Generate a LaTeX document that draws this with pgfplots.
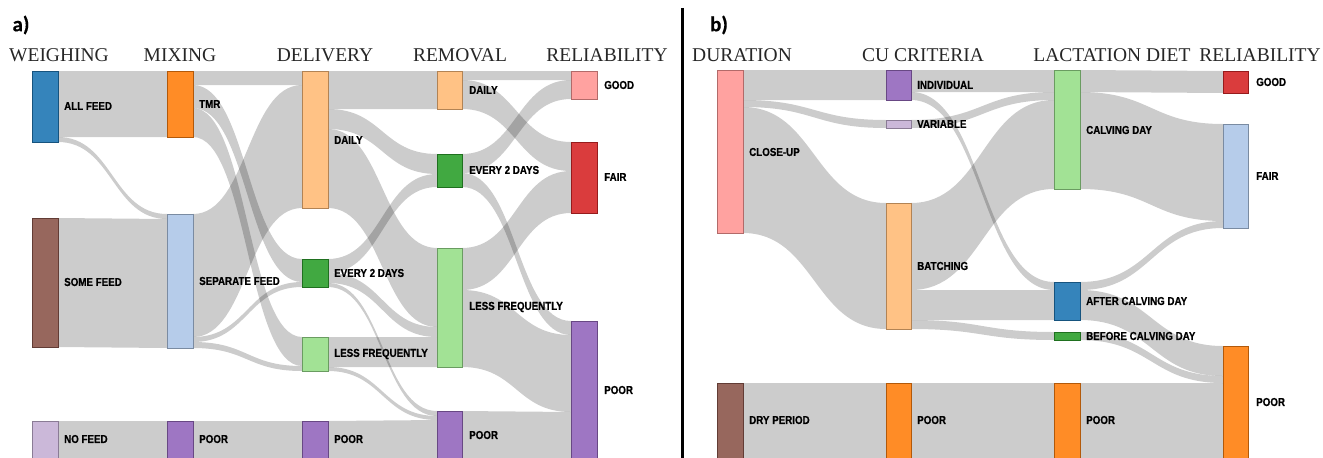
\documentclass[border=0pt]{standalone}
\usepackage{pgfplots}
\pgfplotsset{compat=1.18}
\usepackage{fontspec}
\setmainfont{Liberation Serif}
\newfontfamily\labfont{Liberation Sans Bold}[FakeStretch=0.85, FakeBold=0.6]
\newfontfamily\panfont{Carlito Bold}[FakeBold=0.5]
\definecolor{cBlue}{HTML}{1F77B4}
\definecolor{cLBlue}{HTML}{AEC7E8}
\definecolor{cOrange}{HTML}{FF7F0E}
\definecolor{cPeach}{HTML}{FFBB78}
\definecolor{cGreen}{HTML}{2CA02C}
\definecolor{cLGreen}{HTML}{98DF8A}
\definecolor{cRed}{HTML}{D62728}
\definecolor{cPink}{HTML}{FF9896}
\definecolor{cPurple}{HTML}{9467BD}
\definecolor{cLPurple}{HTML}{C5B0D5}
\definecolor{cBrown}{HTML}{8C564B}
\tikzset{
  lab/.style={anchor=west, inner sep=0pt, font=\labfont\fontsize{11.5bp}{12bp}\selectfont},
  hdr/.style={anchor=base, inner sep=0pt, text=black!85, font=\fontsize{19.5bp}{20bp}\selectfont},
  pan/.style={anchor=center, inner sep=0pt, font=\panfont\fontsize{21bp}{22bp}\selectfont}
}
% flow: x0, xmid, x1, top0, bottom0, top1, bottom1
\newcommand{\flow}[7]{\fill[black, fill opacity=0.2] (axis cs:#1,#4) .. controls (axis cs:#2,#4) and (axis cs:#2,#6) .. (axis cs:#3,#6) -- (axis cs:#3,#7) .. controls (axis cs:#2,#7) and (axis cs:#2,#5) .. (axis cs:#1,#5) -- cycle;}
% node: colour, x0, y0, x1, y1
\newcommand{\snode}[5]{\addplot[draw=#1!70!black, fill=#1, fill opacity=0.9, line width=0.8pt, line join=miter, mark=none] coordinates {(#2,#3) (#4,#3) (#4,#5) (#2,#5)} -- cycle;}
\newcommand{\lab}[3]{\node[lab] at (axis cs:#1,#2) {#3};}
\newcommand{\hdr}[3]{\node[hdr] at (axis cs:#1,#2) {#3};}
\begin{document}
\begin{tikzpicture}
\begin{axis}[scale only axis, width=1323bp, height=457bp,
  xmin=0, xmax=1323, ymin=0, ymax=457, y dir=reverse, hide axis, clip=false]
% ---------------- panel a : flows
% weighing -> mixing
\flow{58}{112.5}{167}{71}{137}{71}{137}
\flow{58}{112.5}{167}{137}{142}{214}{219}
\flow{58}{112.5}{167}{218}{347}{219}{348}
\flow{58}{112.5}{167}{421}{460}{421}{460}
% mixing -> delivery
\flow{193}{247.5}{302}{71}{85}{71}{85}
\flow{193}{247.5}{302}{85}{108}{259}{282}
\flow{193}{247.5}{302}{108}{137}{337}{366}
\flow{193}{247.5}{302}{214}{337}{85}{208}
\flow{193}{247.5}{302}{337}{342}{282}{287}
\flow{193}{247.5}{302}{342}{348}{366}{371}
\flow{193}{247.5}{302}{421}{460}{421}{460}
% delivery -> removal
\flow{328}{382.5}{437}{71}{109}{71}{109}
\flow{328}{382.5}{437}{109}{129}{154}{174}
\flow{328}{382.5}{437}{129}{208}{248}{327}
\flow{328}{382.5}{437}{259}{273}{174}{187}
\flow{328}{382.5}{437}{273}{283}{327}{337}
\flow{328}{382.5}{437}{283}{287}{411}{416}
\flow{328}{382.5}{437}{337}{367}{337}{367}
\flow{328}{382.5}{437}{367}{371}{416}{420}
\flow{328}{382.5}{437}{421}{460}{420}{459}
% removal -> reliability
\flow{462}{516.5}{571}{71}{80}{71}{80}
\flow{462}{516.5}{571}{80}{109}{142}{171}
\flow{462}{516.5}{571}{154}{173}{80}{99}
\flow{462}{516.5}{571}{173}{187}{321}{335}
\flow{462}{516.5}{571}{248}{290}{171}{213}
\flow{462}{516.5}{571}{290}{367}{335}{412}
\flow{462}{516.5}{571}{411}{460}{412}{461}
% ---------------- panel b : flows
% duration -> cu criteria
\flow{743}{814.5}{886}{70}{100}{70}{100}
\flow{743}{814.5}{886}{100}{107}{120}{128}
\flow{743}{814.5}{886}{107}{233}{203}{329}
\flow{743}{814.5}{886}{383}{460}{383}{460}
% cu criteria -> lactation diet
\flow{911}{982.5}{1054}{70}{92}{70}{92}
\flow{911}{982.5}{1054}{92}{100}{282}{290}
\flow{911}{982.5}{1054}{120}{128}{92}{100}
\flow{911}{982.5}{1054}{203}{290}{100}{189}
\flow{911}{982.5}{1054}{290}{320}{290}{320}
\flow{911}{982.5}{1054}{320}{329}{332}{340}
\flow{911}{982.5}{1054}{383}{460}{383}{460}
% lactation diet -> reliability
\flow{1080}{1151.5}{1223}{70}{92}{71}{93}
\flow{1080}{1151.5}{1223}{92}{189}{124}{221}
\flow{1080}{1151.5}{1223}{282}{290}{221}{228}
\flow{1080}{1151.5}{1223}{290}{320}{346}{376}
\flow{1080}{1151.5}{1223}{332}{340}{376}{383}
\flow{1080}{1151.5}{1223}{383}{460}{383}{460}
% ---------------- panel a : nodes
\snode{cBlue}{32}{71}{58}{142}
\snode{cBrown}{32}{218}{58}{347}
\snode{cLPurple}{32}{421}{58}{462}
\snode{cOrange}{167}{71}{193}{137}
\snode{cLBlue}{167}{214}{193}{348}
\snode{cPurple}{167}{421}{193}{462}
\snode{cPeach}{302}{71}{328}{208}
\snode{cGreen}{302}{259}{328}{287}
\snode{cLGreen}{302}{337}{328}{371}
\snode{cPurple}{302}{421}{328}{462}
\snode{cPeach}{437}{71}{462}{109}
\snode{cGreen}{437}{154}{462}{187}
\snode{cLGreen}{437}{248}{462}{367}
\snode{cPurple}{437}{411}{462}{462}
\snode{cPink}{571}{71}{597}{99}
\snode{cRed}{571}{142}{597}{213}
\snode{cPurple}{571}{321}{597}{462}
% ---------------- panel b : nodes
\snode{cPink}{717}{70}{743}{233}
\snode{cBrown}{717}{383}{743}{462}
\snode{cPurple}{886}{70}{911}{100}
\snode{cLPurple}{886}{120}{911}{128}
\snode{cPeach}{886}{203}{911}{329}
\snode{cOrange}{886}{383}{911}{462}
\snode{cLGreen}{1054}{70}{1080}{189}
\snode{cBlue}{1054}{282}{1080}{320}
\snode{cGreen}{1054}{332}{1080}{340}
\snode{cOrange}{1054}{383}{1080}{462}
\snode{cRed}{1223}{71}{1248}{93}
\snode{cLBlue}{1223}{124}{1248}{228}
\snode{cOrange}{1223}{346}{1248}{462}
% divider
\addplot[black, line width=3bp, mark=none] coordinates {(682,8) (682,462)};
% ---------------- labels a
\lab{64}{106}{ALL FEED}
\lab{64}{282}{SOME FEED}
\lab{64}{439}{NO FEED}
\lab{199}{104}{TMR}
\lab{199}{281}{SEPARATE FEED}
\lab{199}{439}{POOR}
\lab{334}{140}{DAILY}
\lab{334}{273}{EVERY 2 DAYS}
\lab{334}{354}{LESS FREQUENTLY}
\lab{334}{439}{POOR}
\lab{469}{90}{DAILY}
\lab{469}{170}{EVERY 2 DAYS}
\lab{469}{307}{LESS FREQUENTLY}
\lab{469}{435}{POOR}
\lab{604}{85}{GOOD}
\lab{604}{177}{FAIR}
\lab{604}{390}{POOR}
% ---------------- labels b
\lab{749}{152}{CLOSE-UP}
\lab{749}{420}{DRY PERIOD}
\lab{917}{85}{INDIVIDUAL}
\lab{917}{124}{VARIABLE}
\lab{917}{266}{BATCHING}
\lab{917}{420}{POOR}
\lab{1086}{130}{CALVING DAY}
\lab{1086}{301}{AFTER CALVING DAY}
\lab{1086}{336}{BEFORE CALVING DAY}
\lab{1086}{420}{POOR}
\lab{1256}{82}{GOOD}
\lab{1256}{176}{FAIR}
\lab{1256}{402}{POOR}
% ---------------- headers
\hdr{59}{62}{WEIGHING}
\hdr{180}{62}{MIXING}
\hdr{325}{62}{DELIVERY}
\hdr{460}{62}{REMOVAL}
\hdr{607}{62}{RELIABILITY}
\hdr{742}{62}{DURATION}
\hdr{923}{62}{CU CRITERIA}
\hdr{1112}{62}{LACTATION DIET}
\hdr{1260}{62}{RELIABILITY}
\node[pan] at (axis cs:21,25) {a)};
\node[pan] at (axis cs:719,25) {b)};
\end{axis}
\pgfresetboundingbox
\useasboundingbox (current axis.south west) rectangle (current axis.north east);
\end{tikzpicture}
\end{document}
